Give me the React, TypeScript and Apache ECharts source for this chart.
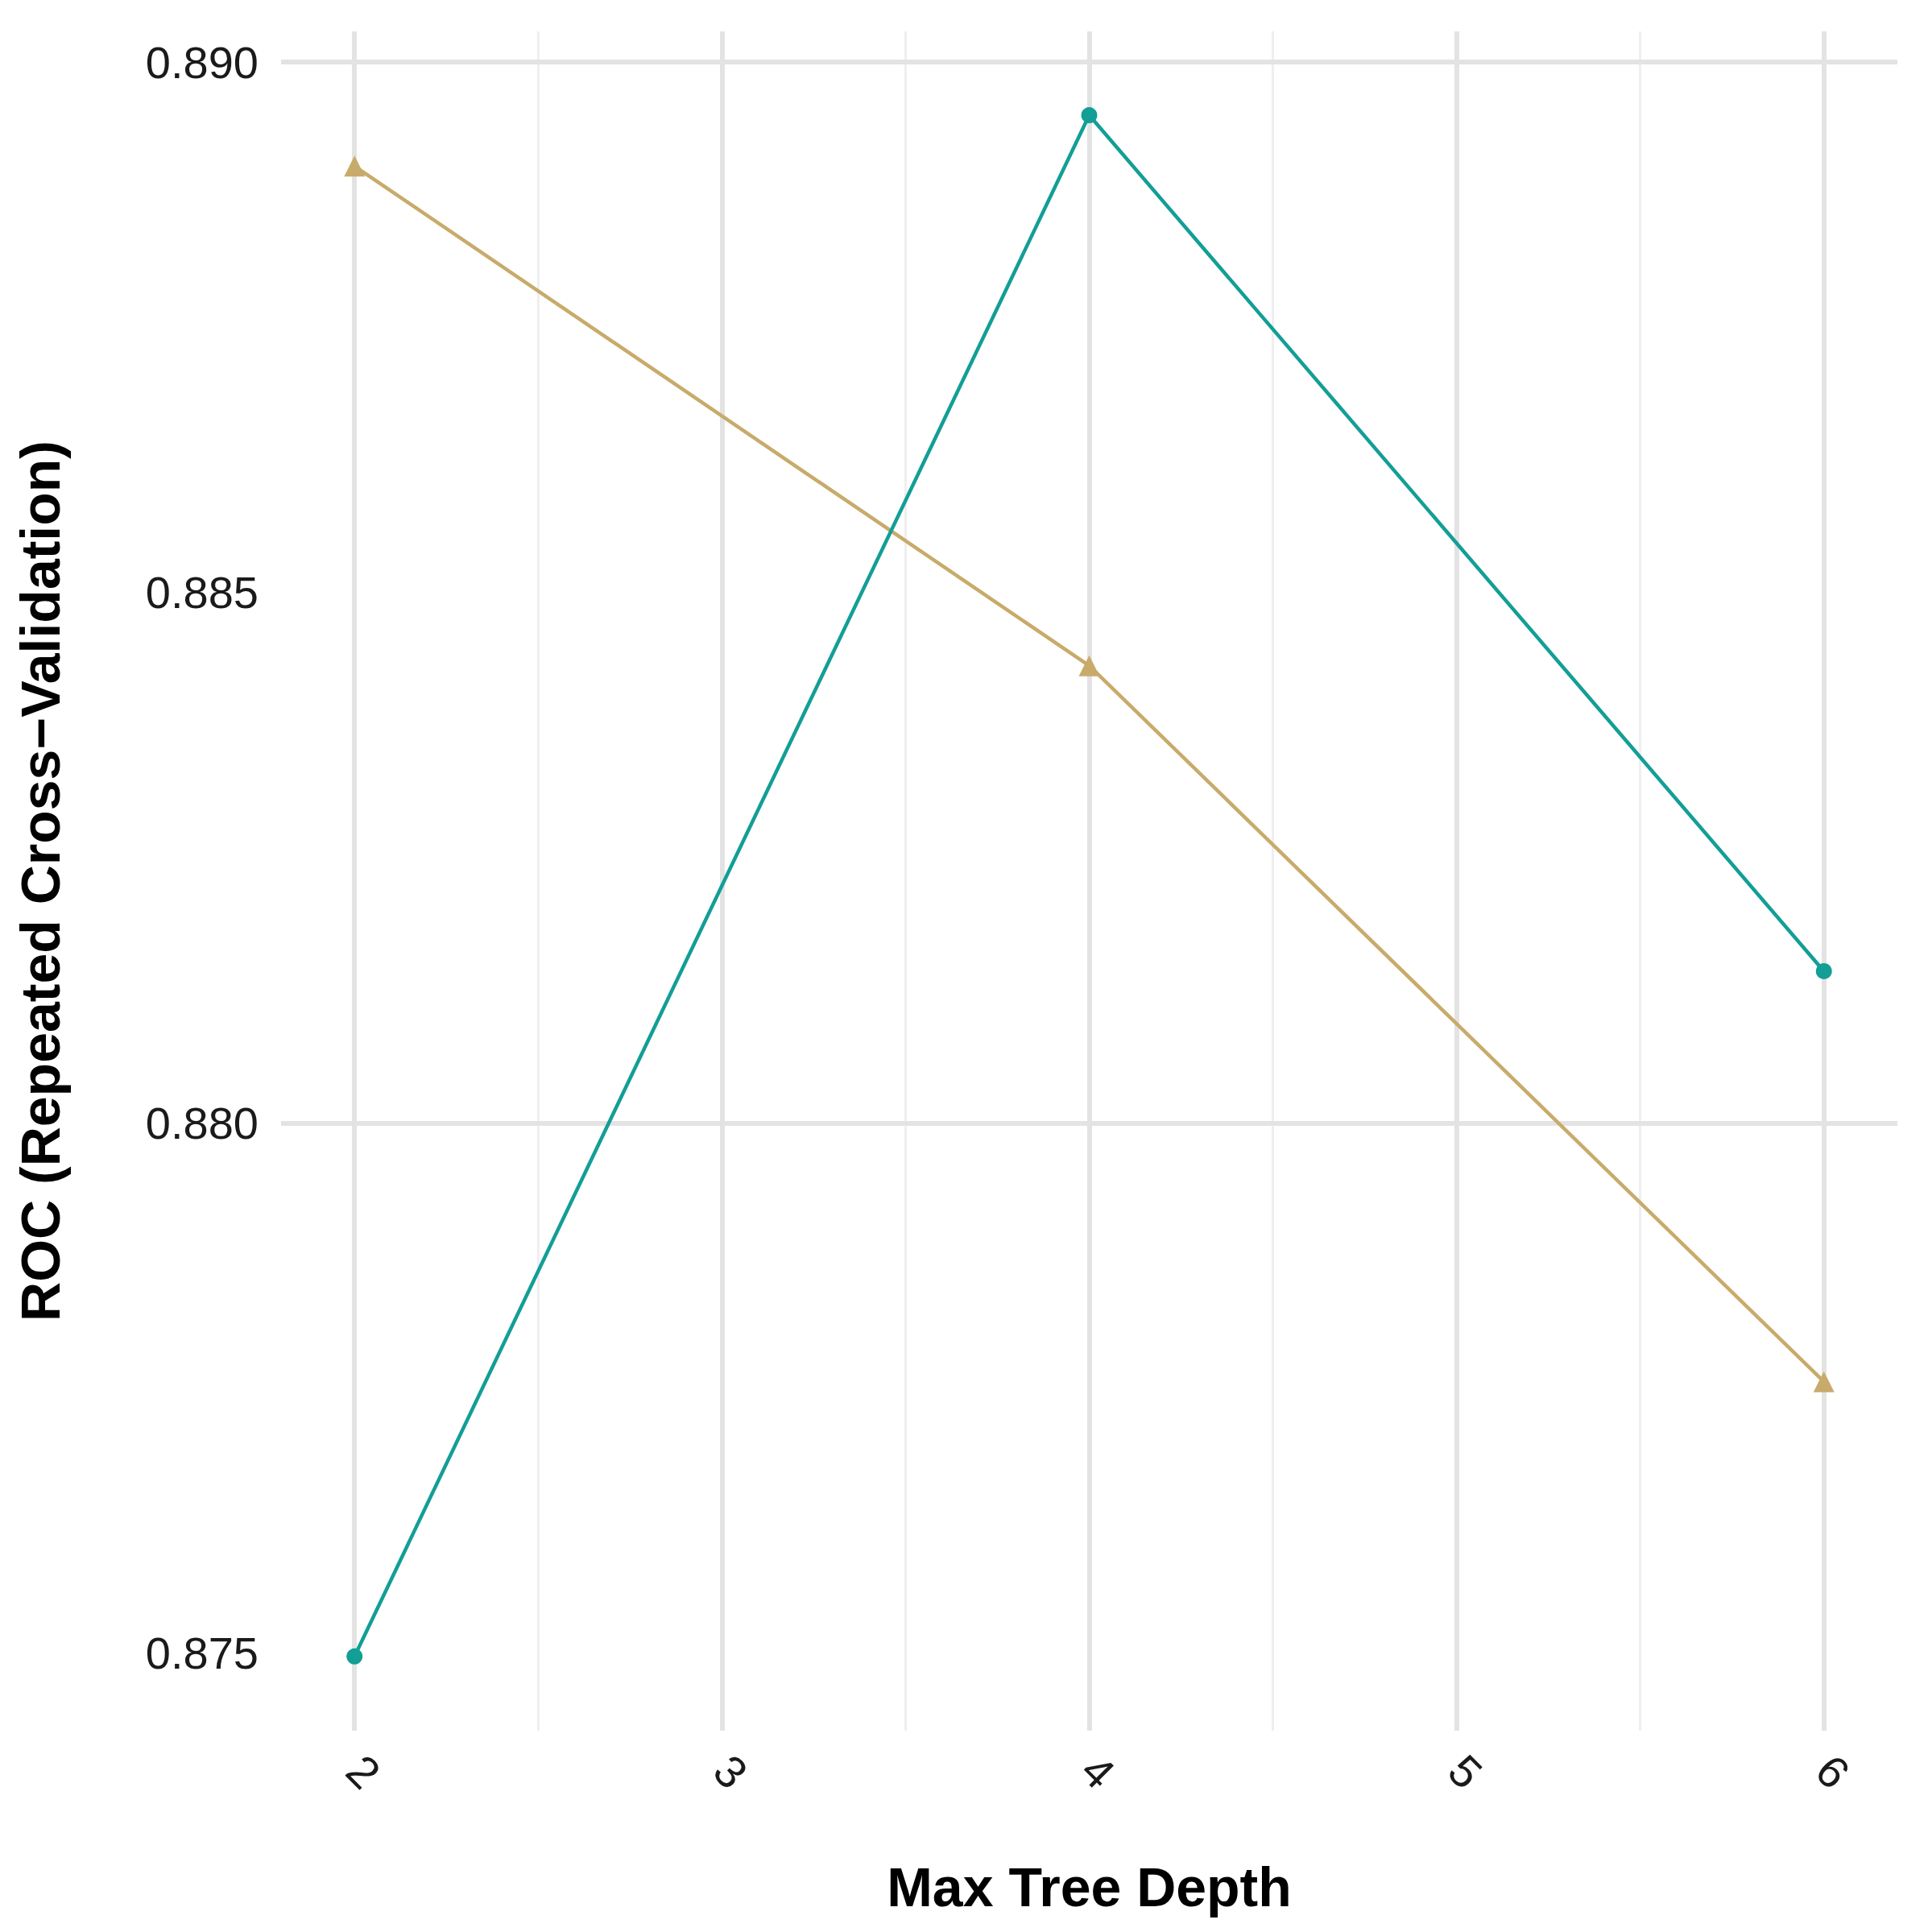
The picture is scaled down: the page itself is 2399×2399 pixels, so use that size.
import { useEffect, useRef } from "react"
import * as echarts from "echarts"

const depths = [2, 4, 6]
const seriesA = [0.87497, 0.8895, 0.88143]
const seriesB = [0.88902, 0.88431, 0.87756]
const xTicks = [2, 3, 4, 5, 6]
const xMinor = [2.5, 3.5, 4.5, 5.5]
const yTicks = [0.875, 0.88, 0.885, 0.89]
const yMinor = [0.8775, 0.8825, 0.8875]

export default function App() {
  const chartRef = useRef<HTMLDivElement>(null)

  useEffect(() => {
    if (!chartRef.current) return
    const chart = echarts.init(chartRef.current, null, { renderer: "svg" })
    const major = { color: "#e3e3e3", width: 6, type: "solid" }
    const minor = { color: "#efefef", width: 3, type: "solid" }
    const grid = [
      ...xMinor.map(v => ({ xAxis: v, lineStyle: minor })),
      ...yMinor.map(v => ({ yAxis: v, lineStyle: minor })),
      ...xTicks.map(v => ({ xAxis: v, lineStyle: major })),
      ...yTicks.map(v => ({ yAxis: v, lineStyle: major })),
    ]
    const font = "Liberation Sans"
    chart.setOption({
      animation: false,
      backgroundColor: "#fff",
      grid: { left: 334, right: 35, top: 31, bottom: 242 },
      xAxis: {
        type: "value",
        min: 1.8,
        max: 6.2,
        name: "Max Tree Depth",
        nameLocation: "middle",
        nameGap: 160,
        nameTextStyle: { fontSize: 68, fontWeight: "bold", color: "#000", fontFamily: font },
        axisLine: { show: false },
        axisTick: { show: false },
        splitLine: { show: false },
        axisLabel: {
          customValues: xTicks,
          rotate: -45,
          fontSize: 56,
          color: "#1a1a1a",
          margin: 40,
          fontFamily: font,
        },
      },
      yAxis: {
        type: "value",
        min: 0.87427,
        max: 0.89029,
        name: "ROC (Repeated Cross−Validation)",
        nameLocation: "middle",
        nameGap: 265,
        nameTextStyle: { fontSize: 68, fontWeight: "bold", color: "#000", fontFamily: font },
        axisLine: { show: false },
        axisTick: { show: false },
        splitLine: { show: false },
        axisLabel: {
          customValues: yTicks,
          formatter: (v: number) => v.toFixed(3),
          fontSize: 56,
          color: "#1a1a1a",
          margin: 28,
          fontFamily: font,
        },
      },
      series: [
        {
          type: "line",
          data: [],
          silent: true,
          z: 0,
          markLine: { symbol: "none", silent: true, z: 0, label: { show: false }, data: grid },
        },
        {
          type: "line",
          z: 5,
          data: depths.map((d, i) => [d, seriesB[i]]),
          symbol: "triangle",
          symbolSize: 26,
          lineStyle: { color: "#c8ab6b", width: 4.5 },
          itemStyle: { color: "#c8ab6b" },
        },
        {
          type: "line",
          z: 6,
          data: depths.map((d, i) => [d, seriesA[i]]),
          symbol: "circle",
          symbolSize: 20,
          lineStyle: { color: "#139e96", width: 4.5 },
          itemStyle: { color: "#139e96" },
        },
      ],
    })
    return () => chart.dispose()
  }, [])

  return <div ref={chartRef} style={{ width: 2383, height: 2383 }} />
}
